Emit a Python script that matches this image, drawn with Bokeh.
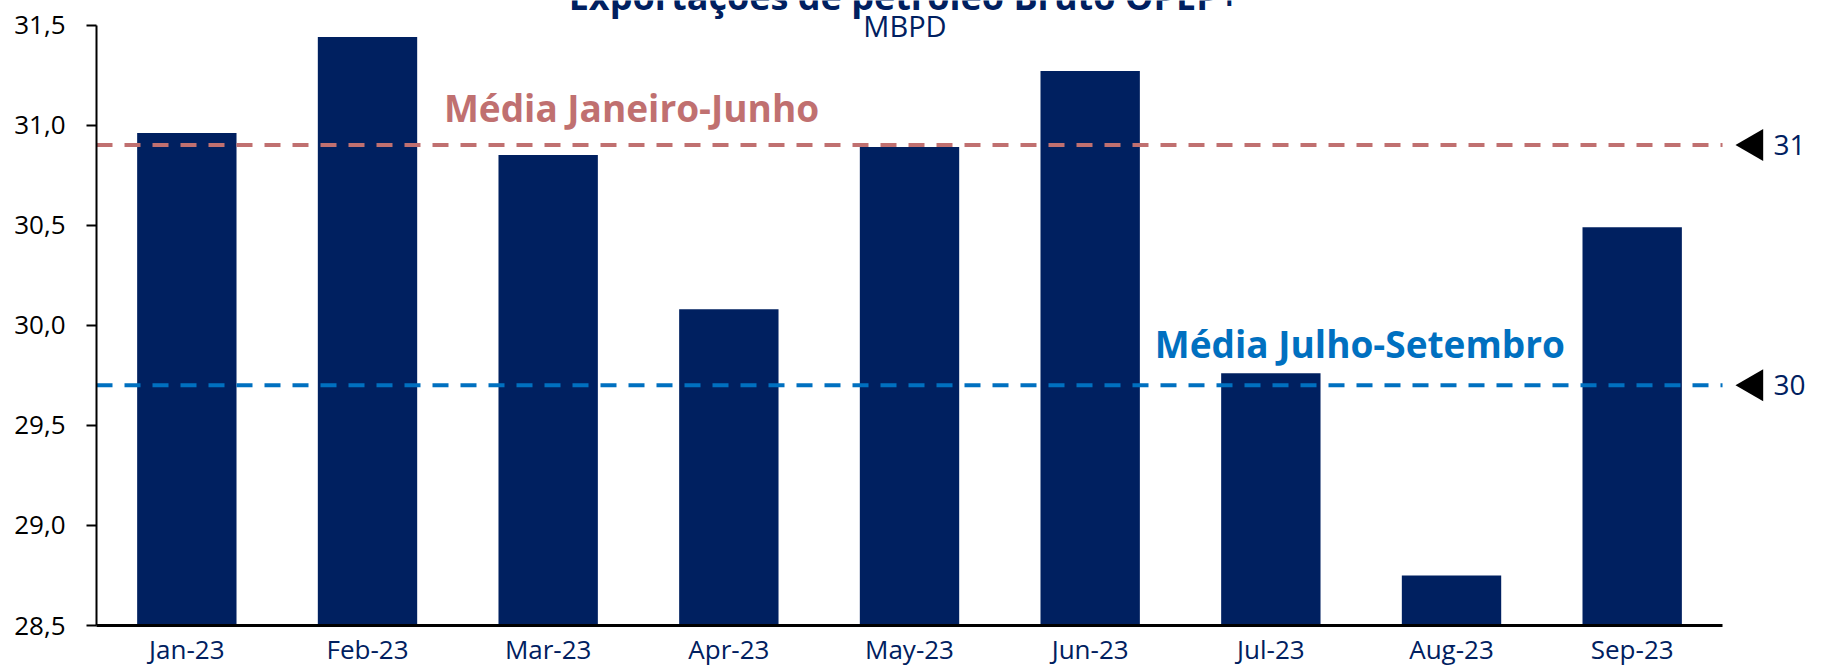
import math
from bokeh.plotting import figure
from bokeh.models import Range1d, FixedTicker, Label
from bokeh.core.properties import value
from bokeh.embed import file_html
from bokeh.resources import INLINE

# ---------------- data ----------------
months = ["Jan-23", "Feb-23", "Mar-23", "Apr-23", "May-23", "Jun-23", "Jul-23", "Aug-23", "Sep-23"]
exports = [30.96, 31.44, 30.85, 30.08, 30.89, 31.27, 29.76, 28.75, 30.49]
avg_values = [30.90, 29.70]
avg_names = ["Média Janeiro-Junho", "Média Julho-Setembro"]
avg_marks = ["31", "30"]
y_ticks = [28.5, 29.0, 29.5, 30.0, 30.5, 31.0, 31.5]
y_tick_labels = ["28,5", "29,0", "29,5", "30,0", "30,5", "31,0", "31,5"]
title_text = "Exportações de petróleo Bruto OPEP+"
subtitle_text = "MBPD"

# ---------------- styles ----------------
NAVY = "#002060"
ROSE = "#C07070"
BLUE = "#0070C0"
FONT = "Open Sans"

n = len(months)
xs = [i + 0.5 for i in range(n)]
y_min, y_max = y_ticks[0], y_ticks[-1]

p = figure(width=1825, height=671, output_backend="svg", toolbar_location=None,
           x_range=Range1d(0, 9.570), y_range=Range1d(y_min, 31.6224),
           min_border_left=96, min_border_right=0, min_border_top=0, min_border_bottom=46)
p.outline_line_color = None
p.xgrid.visible = False
p.ygrid.visible = False
p.background_fill_color = "white"
p.border_fill_color = "white"

# bars
p.vbar(x=xs, top=exports, bottom=y_min, width=0.55, fill_color=NAVY, line_color=None)

# average lines
line_colors = [ROSE, BLUE]
p.segment(x0=[0] * len(avg_values), y0=avg_values, x1=[n] * len(avg_values), y1=avg_values,
          line_color=line_colors, line_width=4, line_dash="16 12")

# markers and values at right
p.scatter(x=[n + 0.174] * len(avg_values), y=avg_values, marker="triangle", size=32,
          angle=math.pi / 2, fill_color="black", line_color=None)
p.text(x=[n + 0.282] * len(avg_values), y=avg_values, text=avg_marks,
       text_font=value(FONT), text_font_size="28px", text_color=NAVY, text_baseline="middle")

# average names
label_pos = [(1.923, 31.086), (5.858, 29.91)]
for (lx, ly), name, col in zip(label_pos, avg_names, line_colors):
    p.add_layout(Label(x=lx, y=ly, text=name, text_font=FONT, text_font_size="37px",
                       text_font_style="bold", text_color=col, text_baseline="alphabetic"))

# title / subtitle
p.add_layout(Label(x=4.47, y=31.64, text=title_text, text_font=FONT, text_font_size="36px",
                   text_font_style="bold", text_color=NAVY, text_align="center",
                   text_baseline="alphabetic"))
p.add_layout(Label(x=4.475, y=31.4975, text=subtitle_text, text_font=FONT, text_font_size="29px",
                   text_color=NAVY, text_align="center", text_baseline="alphabetic"))

# x axis
p.xaxis.ticker = FixedTicker(ticks=xs)
p.xaxis.major_label_overrides = {x: m for x, m in zip(xs, months)}
p.xaxis.bounds = (-0.055, n)
p.xaxis.axis_line_width = 3
p.xaxis.axis_line_color = "black"
p.xaxis.major_tick_out = 0
p.xaxis.major_tick_in = 0
p.xaxis.minor_tick_out = 0
p.xaxis.minor_tick_in = 0
p.xaxis.major_label_standoff = 5
p.xaxis.major_label_text_font = FONT
p.xaxis.major_label_text_font_size = "26px"
p.xaxis.major_label_text_color = NAVY

# y axis
p.yaxis.ticker = FixedTicker(ticks=y_ticks)
p.yaxis.major_label_overrides = {t: l for t, l in zip(y_ticks, y_tick_labels)}
p.yaxis.bounds = (y_min, y_max)
p.yaxis.axis_line_width = 2
p.yaxis.axis_line_color = "black"
p.yaxis.major_tick_out = 10
p.yaxis.major_tick_in = 0
p.yaxis.major_tick_line_width = 2
p.yaxis.minor_tick_out = 0
p.yaxis.minor_tick_in = 0
p.yaxis.major_label_standoff = 21
p.yaxis.major_label_text_font = FONT
p.yaxis.major_label_text_font_size = "26px"
p.yaxis.major_label_text_color = "black"

open("out.html", "w").write(file_html(p, INLINE))
